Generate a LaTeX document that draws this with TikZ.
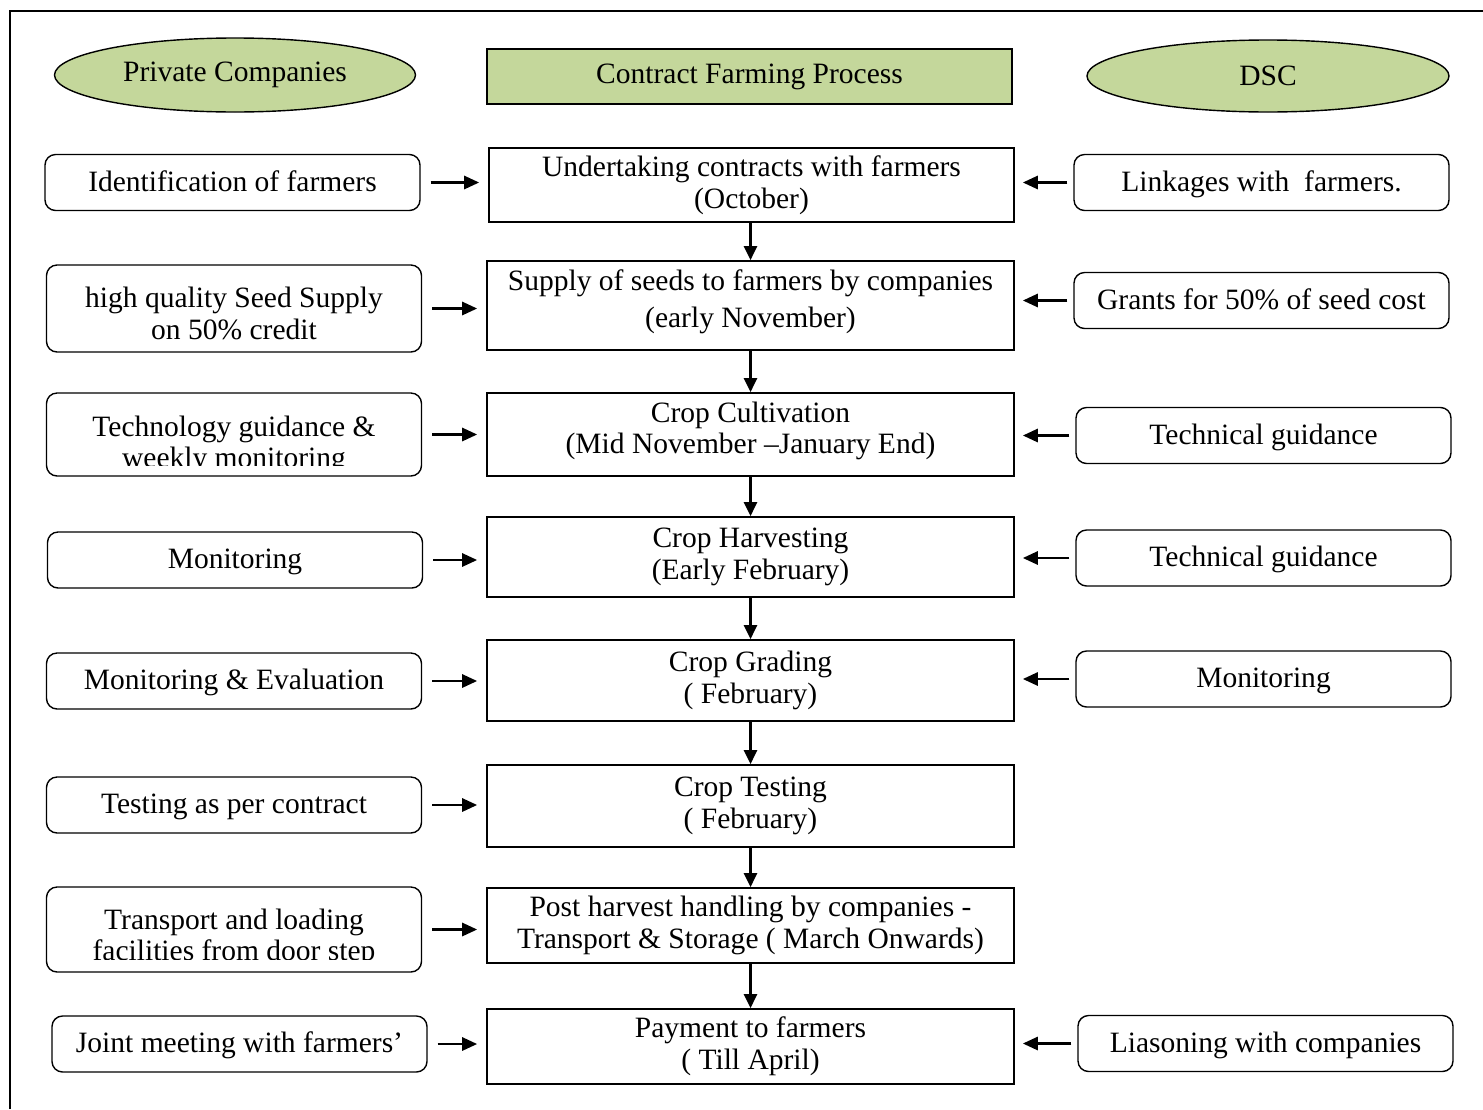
\documentclass[tikz,border=0pt]{standalone}
\usepackage{fontspec}
\setmainfont{Liberation Serif}
\usetikzlibrary{shapes.geometric,arrows.meta}
\definecolor{leaf}{RGB}{196,215,155}
\def\pxu{0.02cm}
% invisible struts that nudge a multi-line text inside its box
\newcommand\lowstrut{\rule[-7.7pt]{0pt}{0pt}}
\newcommand\highstrut{\rule{0pt}{1.03em}}
\begin{document}
\begin{tikzpicture}[x=\pxu,y=-\pxu,
  every node/.style={font=\fontsize{16.8}{18}\selectfont, inner sep=0pt, align=center},
  oval/.style={ellipse, draw, fill=leaf, line width=0.8pt},
  head/.style={rectangle, draw, fill=leaf, line width=1pt, minimum width=525*\pxu, minimum height=55*\pxu},
  stage/.style={rectangle, draw, line width=1pt, minimum width=527*\pxu},
  side/.style={rectangle, rounded corners=6pt, draw, line width=0.8pt, minimum width=375*\pxu, minimum height=56*\pxu},
  oneline/.style={side, text height=1.0em, text depth=0pt},
  link/.style={line width=1.3pt, -{Triangle[length=8.5pt,width=7.5pt]}},
  flow/.style={line width=1.3pt, -{Triangle[length=8pt,width=7.5pt]}}
]
\useasboundingbox (0,0) rectangle (1483,1109);
% frame
\draw[line width=1.1pt] (10,1109) -- (10,11) -- (1483,11);

% column headings
\node[oval, minimum width=361*\pxu, minimum height=74*\pxu] (PC) at (235,75) {Private Companies};
\node[head] (CFP) at (749.5,76.5) {Contract Farming Process};
\node[oval, minimum width=362*\pxu, minimum height=72*\pxu] (DSC) at (1268,76) {DSC};

% process stages
\node[stage, minimum width=525*\pxu, minimum height=74*\pxu] (C1) at (751.5,185) {Undertaking contracts with farmers\\(October)};
\node[stage, minimum height=89*\pxu] (C2) at (750.5,305.5) {Supply of seeds to farmers by companies\\[3pt](early November)\lowstrut};
\node[stage, minimum height=83*\pxu] (C3) at (750.5,434.5) {Crop Cultivation\\(Mid November --January End)\lowstrut};
\node[stage, minimum height=80*\pxu] (C4) at (750.5,557) {Crop Harvesting\\(Early February)};
\node[stage, minimum height=81*\pxu] (C5) at (750.5,680.5) {Crop Grading\\( February)};
\node[stage, minimum height=82*\pxu] (C6) at (750.5,806) {Crop Testing\\( February)};
\node[stage, minimum height=75*\pxu] (C7) at (750.5,925.5) {Post harvest handling by companies -\\Transport \& Storage ( March Onwards)};
\node[stage, minimum height=75*\pxu] (C8) at (750.5,1046.5) {Payment to farmers\\( Till April)};

\foreach \a/\b in {C1/C2,C2/C3,C3/C4,C4/C5,C5/C6,C6/C7,C7/C8}
  \draw[flow] (\b.north |- \a.south) -- (\b.north);

% private companies' roles
\node[oneline] (L1) at (232.5,182.5) {Identification of farmers};
\node[side, minimum height=87*\pxu] (L2) at (234,308.5) {\highstrut high quality Seed Supply\\on 50\% credit};
\node[side, minimum height=83*\pxu] (L3) at (234,434.5) {};
\begin{scope}
  \clip (L3.north west) rectangle ([yshift=11*\pxu]L3.south east);
  \node (L3t) at (234,445) {Technology guidance \&\\weekly monitoring};
\end{scope}
\node[oneline] (L4) at (235,560) {Monitoring};
\node[oneline] (L5) at (234,681) {Monitoring \& Evaluation};
\node[oneline] (L6) at (234,805) {Testing as per contract};
\node[side, minimum height=85*\pxu] (L7) at (234,929.5) {};
\begin{scope}
  \clip (L7.north west) rectangle ([yshift=13*\pxu]L7.south east);
  \node (L7t) at (234,938) {Transport and loading\\facilities from door step};
\end{scope}
\node[oneline] (L8) at (239.5,1044) {Joint meeting with farmers'};

\foreach \i in {1,...,8}
  \draw[link] ([xshift=10*\pxu]L\i.east) -- ([xshift=-9*\pxu]C\i.west |- L\i.east);

% DSC roles
\node[oneline] (R1) at (1261.5,182.5) {Linkages with~ farmers.};
\node[oneline] (R2) at (1261.5,300.5) {Grants for 50\% of seed cost};
\node[oneline] (R3) at (1263.5,435.5) {Technical guidance};
\node[oneline] (R4) at (1263.5,558) {Technical guidance};
\node[oneline] (R5) at (1263.5,679) {Monitoring};
\node[oneline] (R8) at (1265.5,1043.5) {Liasoning with companies};

\foreach \i in {1,2,3,4,5,8}
  \draw[link] ([xshift=-6*\pxu]R\i.west) -- ([xshift=8*\pxu]C\i.east |- R\i.west);
\end{tikzpicture}
\end{document}
